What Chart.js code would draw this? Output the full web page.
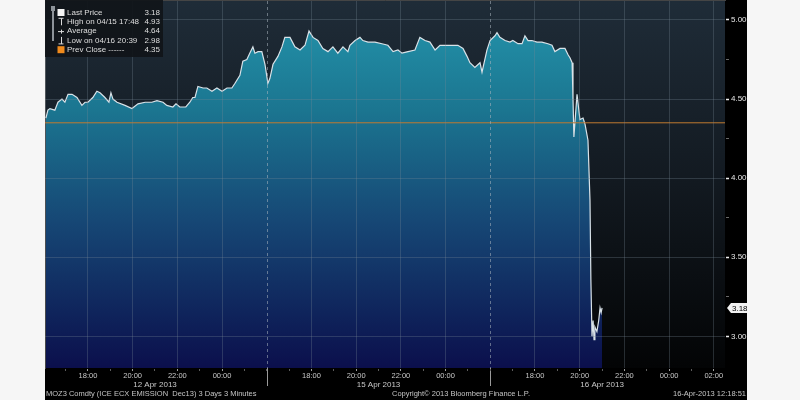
<!DOCTYPE html>
<html>
  <head>
    <style>
      body {
        margin: 0;
        background: #f6f6f6;
      }
      #chartContainer {
        position: absolute;
        left: 45px;
        top: 0;
        width: 702px;
        height: 400px;
        background: #000;
      }
    </style>
  </head>

  <body>
    <div id="chartContainer">
      <canvas id="myChart"></canvas>
    </div>

    <script src="https://cdn.jsdelivr.net/npm/chart.js"></script>
    <script>
      // x is "session hours": each day is drawn from 16:00 to 02:00, days packed side by side
      const sessionHours = [
        0.12, 0.21, 0.30, 0.52, 0.66, 0.84, 0.97, 1.11, 1.29, 1.51,
        1.73, 1.87, 2.00, 2.22, 2.40, 2.54, 2.76, 2.94, 3.03, 3.12,
        3.30, 3.66, 3.97, 4.24, 4.56, 4.86, 5.09, 5.36, 5.53, 5.80,
        5.94, 6.11, 6.38, 6.56, 6.69, 6.79, 6.92, 7.15, 7.32, 7.55,
        7.77, 8.00, 8.22, 8.44, 8.58, 8.80, 8.93, 9.11, 9.24, 9.38,
        9.47, 9.61, 9.78, 9.92, 10.05, 10.14, 10.28, 10.50, 10.68, 10.81,
        11.04, 11.26, 11.49, 11.71, 11.89, 12.07, 12.29, 12.51, 12.74, 12.96,
        13.18, 13.41, 13.63, 13.72, 13.95, 14.17, 14.30, 14.53, 14.84, 15.15,
        15.42, 15.65, 15.87, 16.05, 16.32, 16.63, 16.85, 17.08, 17.30, 17.53,
        17.75, 18.06, 18.33, 18.55, 18.78, 18.96, 19.09, 19.31, 19.54, 19.63,
        19.85, 19.99, 20.21, 20.30, 20.43, 20.66, 20.88, 21.01, 21.24, 21.42,
        21.55, 21.69, 21.86, 22.09, 22.31, 22.58, 22.76, 22.89, 23.12, 23.34,
        23.48, 23.57, 23.66, 23.70, 23.74, 23.88, 24.01, 24.15, 24.24, 24.37,
        24.46, 24.50, 24.55, 24.60, 24.64, 24.68, 24.77, 24.85, 24.91, 24.96, 25.00
      ];
      const lastPrice = [
        4.38, 4.43, 4.44, 4.43, 4.48, 4.50, 4.48, 4.53, 4.53, 4.51,
        4.46, 4.48, 4.48, 4.51, 4.55, 4.54, 4.51, 4.48, 4.54, 4.50,
        4.48, 4.46, 4.44, 4.47, 4.48, 4.48, 4.49, 4.48, 4.46, 4.45,
        4.47, 4.45, 4.45, 4.48, 4.51, 4.51, 4.58, 4.57, 4.57, 4.55,
        4.57, 4.55, 4.57, 4.57, 4.60, 4.65, 4.74, 4.75, 4.79, 4.83,
        4.79, 4.80, 4.80, 4.72, 4.60, 4.63, 4.72, 4.77, 4.83, 4.89,
        4.89, 4.83, 4.81, 4.84, 4.93, 4.89, 4.87, 4.82, 4.80, 4.83,
        4.79, 4.83, 4.80, 4.84, 4.87, 4.89, 4.87, 4.86, 4.86, 4.85,
        4.84, 4.80, 4.81, 4.79, 4.80, 4.81, 4.89, 4.87, 4.86, 4.81,
        4.84, 4.84, 4.84, 4.84, 4.82, 4.77, 4.73, 4.70, 4.73, 4.67,
        4.81, 4.87, 4.90, 4.92, 4.89, 4.87, 4.86, 4.87, 4.85, 4.85,
        4.90, 4.87, 4.87, 4.86, 4.86, 4.85, 4.84, 4.80, 4.82, 4.82,
        4.78, 4.76, 4.73, 4.50, 4.26, 4.53, 4.37, 4.38, 4.34, 4.24,
        3.86, 3.36, 3.00, 3.10, 2.98, 3.06, 3.03, 3.10, 3.18, 3.15, 3.18
      ];
      const prevClose = 4.35;

      const hourTicks = [2, 4, 6, 8, 12, 14, 16, 18, 22, 24, 26, 28, 30];
      const hourLabels = ['18:00', '20:00', '22:00', '00:00', '18:00', '20:00', '22:00', '00:00',
                          '18:00', '20:00', '22:00', '00:00', '02:00'];
      const dayBreaks = [10, 20];
      const dayCentres = [5, 15, 25];
      const dayLabels = ['12 Apr 2013', '15 Apr 2013', '16 Apr 2013'];
      const priceTicks = [3.00, 3.50, 4.00, 4.50, 5.00];
      const priceMinorTicks = [3.25, 3.75, 4.25, 4.75];

      const legendLabels = ['Last Price', 'High on 04/15 17:48', 'Average', 'Low on 04/16 20:39', 'Prev Close ------'];
      const legendValues = ['3.18', '4.93', '4.64', '2.98', '4.35'];
      const footerLeft = 'MOZ3 Comdty (ICE ECX EMISSION  Dec13) 3 Days 3 Minutes';
      const footerMid = 'Copyright\u00a9 2013 Bloomberg Finance L.P.';
      const footerRight = '16-Apr-2013 12:18:51';

      const fontFamily = "'Liberation Sans', Arial, sans-serif";
      const xMin = 0.08, xMax = 30.5;

      const allHours = [];
      for (let h = 1; h <= 30; h++) allHours.push(h);

      function drawIcon(ctx, i, x, y) {
        ctx.strokeStyle = '#dcdcdc';
        ctx.lineWidth = 1;
        if (i === 0) {
          ctx.fillStyle = '#f4f4f4';
          ctx.fillRect(x - 3.5, y - 3.5, 7, 7);
        } else if (i === 1) {
          ctx.beginPath();
          ctx.moveTo(x - 2.5, y - 3.5); ctx.lineTo(x + 2.5, y - 3.5);
          ctx.moveTo(x + 0.5, y - 3.5); ctx.lineTo(x + 0.5, y + 3.5);
          ctx.stroke();
        } else if (i === 2) {
          ctx.beginPath();
          ctx.moveTo(x - 3, y + 0.5); ctx.lineTo(x + 3, y + 0.5);
          ctx.moveTo(x + 0.5, y - 1.5); ctx.lineTo(x + 0.5, y + 2.5);
          ctx.stroke();
        } else if (i === 3) {
          ctx.beginPath();
          ctx.moveTo(x + 0.5, y - 3.5); ctx.lineTo(x + 0.5, y + 3.5);
          ctx.moveTo(x - 2.5, y + 3.5); ctx.lineTo(x + 2.5, y + 3.5);
          ctx.stroke();
        } else {
          ctx.fillStyle = '#f08a1c';
          ctx.fillRect(x - 3.5, y - 3.5, 7, 7);
        }
      }

      const bbgOverlay = {
        id: 'bbgOverlay',
        beforeDraw(chart) {
          const {ctx, chartArea: a} = chart;
          const g = ctx.createLinearGradient(0, a.top, 0, a.bottom);
          g.addColorStop(0, '#1f2c38');
          g.addColorStop(0.5, '#121920');
          g.addColorStop(1, '#030405');
          ctx.save();
          ctx.fillStyle = g;
          ctx.fillRect(a.left, a.top, a.right - a.left, a.bottom - a.top);
          ctx.restore();
        },
        afterDatasetsDraw(chart) {
          const {ctx, chartArea: a, scales} = chart;
          ctx.save();
          ctx.lineWidth = 1;
          dayBreaks.forEach(h => {
            const x = Math.round(scales.x.getPixelForValue(h)) + 0.5;
            ctx.strokeStyle = 'rgba(170,180,190,0.55)';
            ctx.setLineDash([3, 3]);
            ctx.beginPath(); ctx.moveTo(x, a.top); ctx.lineTo(x, a.bottom); ctx.stroke();
            ctx.strokeStyle = '#9a9a9a';
            ctx.setLineDash([]);
            ctx.beginPath(); ctx.moveTo(x, a.bottom); ctx.lineTo(x, a.bottom + 18); ctx.stroke();
          });
          ctx.restore();
        },
        afterDraw(chart) {
          const {ctx, chartArea: a, scales} = chart;
          ctx.save();

          // last price tag on the axis
          const last = lastPrice[lastPrice.length - 1];
          const y = Math.round(scales.y.getPixelForValue(last));
          ctx.fillStyle = '#f2f2f2';
          ctx.beginPath();
          ctx.moveTo(a.right + 2, y);
          ctx.lineTo(a.right + 6, y - 5);
          ctx.lineTo(chart.width, y - 5);
          ctx.lineTo(chart.width, y + 5);
          ctx.lineTo(a.right + 6, y + 5);
          ctx.closePath();
          ctx.fill();
          ctx.fillStyle = '#000';
          ctx.font = '8px ' + fontFamily;
          ctx.textBaseline = 'middle';
          ctx.textAlign = 'left';
          ctx.fillText(last.toFixed(2), a.right + 7, y + 0.5);

          // legend box
          ctx.fillStyle = 'rgba(16,20,25,0.93)';
          ctx.fillRect(a.left, 0, 118, 57);
          ctx.fillStyle = '#8d9399';
          ctx.fillRect(a.left + 7, 9, 2, 32);
          ctx.fillRect(a.left + 6, 6, 4, 5);
          legendLabels.forEach((label, i) => {
            const ly = 12.5 + i * 9.3;
            drawIcon(ctx, i, a.left + 16, ly);
            ctx.fillStyle = '#dedede';
            ctx.textAlign = 'left';
            ctx.fillText(label, a.left + 22, ly);
            ctx.textAlign = 'right';
            ctx.fillText(legendValues[i], a.left + 115, ly);
          });

          // footer
          ctx.font = '7.5px ' + fontFamily;
          ctx.fillStyle = '#c4c4c4';
          ctx.textAlign = 'left';
          ctx.fillText(footerLeft, 1, 394);
          ctx.fillText(footerMid, 347, 394);
          ctx.textAlign = 'right';
          ctx.fillText(footerRight, chart.width - 1, 394);
          ctx.restore();
        }
      };

      const ctx = document.getElementById('myChart');

      new Chart(ctx, {
        type: 'line',
        data: {
          datasets: [
            {
              label: 'Prev Close',
              data: [{x: xMin, y: prevClose}, {x: xMax, y: prevClose}],
              borderColor: '#c07a30',
              borderWidth: 1,
              pointRadius: 0,
              fill: false
            },
            {
              label: 'Last Price',
              data: sessionHours.map((h, i) => ({x: h, y: lastPrice[i]})),
              borderColor: '#d9e2e8',
              borderWidth: 1.2,
              pointRadius: 0,
              tension: 0,
              fill: 'start',
              backgroundColor: c => {
                const a = c.chart.chartArea;
                if (!a) return 'rgba(0,0,0,0)';
                const g = c.chart.ctx.createLinearGradient(0, a.top, 0, a.bottom);
                g.addColorStop(0, '#2496ad');
                g.addColorStop(0.3, '#1b7590');
                g.addColorStop(0.6, '#164775');
                g.addColorStop(1, '#0b0f4c');
                return g;
              }
            }
          ]
        },
        options: {
          responsive: true,
          maintainAspectRatio: false,
          animation: false,
          layout: {
            padding: {top: 1, bottom: 10, left: 0, right: 0}
          },
          plugins: {
            legend: {display: false},
            tooltip: {enabled: false}
          },
          scales: {
            x: {
              type: 'linear',
              min: xMin,
              max: xMax,
              weight: 0,
              afterBuildTicks: axis => {
                axis.ticks = allHours.map(v => ({value: v}));
              },
              afterFit: axis => {
                axis.height = 12;
              },
              ticks: {
                autoSkip: false,
                maxRotation: 0,
                padding: 0,
                color: '#c8c8c8',
                font: {size: 7.5, family: fontFamily},
                callback: v => {
                  const i = hourTicks.indexOf(v);
                  return i < 0 ? '' : hourLabels[i];
                }
              },
              grid: {
                z: 1,
                tickLength: 3,
                color: c => (c.tick && hourTicks.includes(c.tick.value)) ? 'rgba(120,135,150,0.3)' : 'rgba(0,0,0,0)',
                tickColor: c => (c.tick && hourTicks.includes(c.tick.value)) ? '#a0a0a0' : '#5c5c5c'
              },
              border: {color: '#8a8a8a'}
            },
            x2: {
              type: 'linear',
              position: 'bottom',
              min: xMin,
              max: xMax,
              weight: 1,
              afterBuildTicks: axis => {
                axis.ticks = dayCentres.map(v => ({value: v}));
              },
              afterFit: axis => {
                axis.height = 10;
              },
              ticks: {
                autoSkip: false,
                maxRotation: 0,
                padding: 0,
                color: '#c8c8c8',
                font: {size: 8, family: fontFamily},
                callback: v => {
                  const i = dayCentres.indexOf(v);
                  return i < 0 ? '' : dayLabels[i];
                }
              },
              grid: {display: false, drawTicks: false},
              border: {display: false}
            },
            y: {
              type: 'linear',
              position: 'right',
              min: 2.8,
              max: 5.12,
              afterBuildTicks: axis => {
                axis.ticks = priceTicks.concat(priceMinorTicks).sort((p, q) => p - q).map(v => ({value: v}));
              },
              afterFit: axis => {
                axis.width = 22;
                axis.paddingTop = 0;
                axis.paddingBottom = 0;
              },
              ticks: {
                padding: 2,
                color: '#e6e6e6',
                font: {size: 8, family: fontFamily},
                callback: v => priceTicks.includes(v) ? v.toFixed(2) : ''
              },
              grid: {
                z: 1,
                tickLength: 4,
                color: c => (c.tick && priceTicks.includes(c.tick.value)) ? 'rgba(120,135,150,0.3)' : 'rgba(0,0,0,0)',
                tickColor: c => (c.tick && priceTicks.includes(c.tick.value)) ? '#f0f0f0' : '#6a6a6a',
                tickWidth: c => (c.tick && priceTicks.includes(c.tick.value)) ? 1.5 : 1
              },
              border: {color: '#8a8a8a'}
            }
          }
        },
        plugins: [bbgOverlay]
      });
    </script>
  </body>
</html>
